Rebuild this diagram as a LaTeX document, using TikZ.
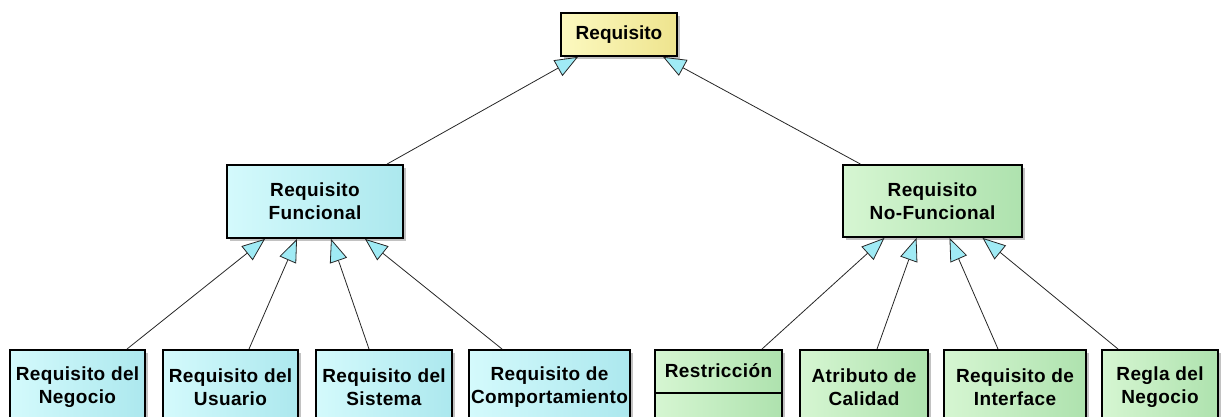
\documentclass[tikz,border=0pt]{standalone}
\usepackage{fontspec}
\setmainfont{Liberation Sans}
\newfontfamily\boxfont[LetterSpace=2]{Liberation Sans}
\usetikzlibrary{arrows.meta,shadows}

\definecolor{reqA}{RGB}{252,249,192}
\definecolor{reqB}{RGB}{238,228,142}
\definecolor{funcA}{RGB}{212,250,252}
\definecolor{funcB}{RGB}{172,232,238}
\definecolor{nfuncA}{RGB}{214,246,210}
\definecolor{nfuncB}{RGB}{174,226,174}
\definecolor{tipcyan}{RGB}{160,235,245}

\begin{document}
\begin{tikzpicture}[x=1pt,y=-1pt,
  box/.style={draw=black,line width=1.8pt,inner sep=0pt,align=center,
    font=\boxfont\fontsize{19}{23}\selectfont\bfseries,
    drop shadow={shadow xshift=3pt,shadow yshift=-3pt,fill=black!40,opacity=.6}},
  yellowbox/.style={box,left color=reqA,right color=reqB,
    font=\fontsize{19}{23}\selectfont\bfseries},
  cyanbox/.style={box,left color=funcA,right color=funcB},
  greenbox/.style={box,left color=nfuncA,right color=nfuncB},
  leaf/.style={anchor=north,minimum height=74pt},
  gen/.style={-{Triangle[open,fill=tipcyan,length=23pt,width=18pt]},
    line width=0.8pt,draw=black!85}]
\clip (0,0) rectangle (1228,416);

\node[yellowbox,minimum width=116pt,minimum height=43pt] (req) at (619,34.5) {Requisito};

\node[cyanbox,minimum width=176pt,minimum height=73pt] (func) at (315,201.5) {Requisito\\Funcional};
\node[greenbox,minimum width=179pt,minimum height=72pt] (nfunc) at (932.5,201) {Requisito\\No-Funcional};

\node[cyanbox,leaf,minimum width=135pt] (neg) at (77.5,349) {Requisito del\\Negocio};
\node[cyanbox,leaf,minimum width=135pt] (usu) at (230.5,349) {Requisito del\\Usuario};
\node[cyanbox,leaf,minimum width=136pt] (sis) at (384,349) {Requisito del\\Sistema};
\node[cyanbox,leaf,minimum width=161pt] (comp) at (549.5,349) {Requisito de\\Comportamiento};

\node[greenbox,leaf,minimum width=127pt,text height=14pt,text depth=32pt,
  path picture={\draw[line width=1.8pt]
    ([yshift=-43pt]path picture bounding box.north west) --
    ([yshift=-43pt]path picture bounding box.north east);}] (restr) at (718.5,349) {Restricción};
\node[greenbox,leaf,minimum width=128pt] (atrib) at (864,349) {Atributo de\\Calidad};
\node[greenbox,leaf,minimum width=142pt] (inter) at (1015,349) {Requisito de\\Interface};
\node[greenbox,leaf,minimum width=116pt] (regla) at (1160,349) {Regla del\\Negocio};

\path
([xshift=72pt]func.north) edge[gen] ([xshift=-41pt]req.south)
([xshift=-72pt]nfunc.north) edge[gen] ([xshift=44pt]req.south)
([xshift=49.5pt]neg.north) edge[gen] ([xshift=-50pt]func.south)
([xshift=18.5pt]usu.north) edge[gen] ([xshift=-18pt]func.south)
([xshift=-15pt]sis.north) edge[gen] ([xshift=16pt]func.south)
([xshift=-47.5pt]comp.north) edge[gen] ([xshift=50pt]func.south)
([xshift=43.5pt]restr.north) edge[gen] ([xshift=-48pt]nfunc.south)
([xshift=13pt]atrib.north) edge[gen] ([xshift=-16pt]nfunc.south)
([xshift=-17pt]inter.north) edge[gen] ([xshift=17pt]nfunc.south)
([xshift=-42pt]regla.north) edge[gen] ([xshift=50pt]nfunc.south);
\end{tikzpicture}
\end{document}
